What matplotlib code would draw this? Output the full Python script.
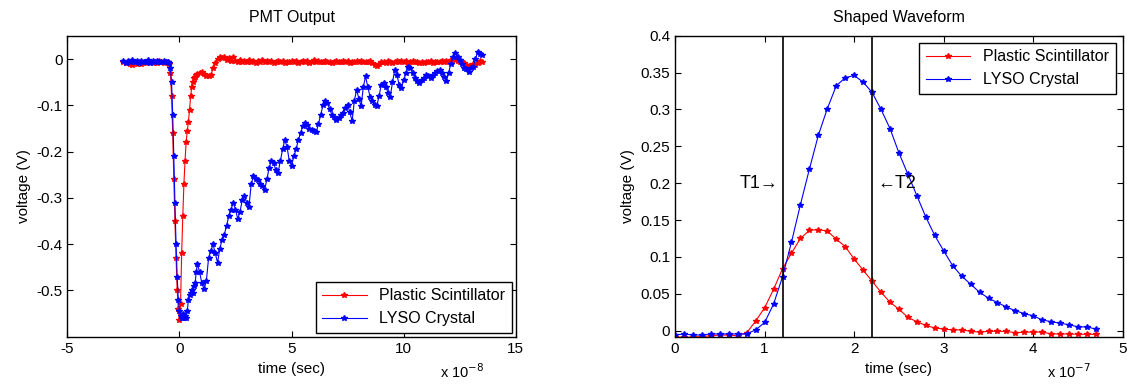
import matplotlib.pyplot as plt
import numpy as np
from matplotlib.ticker import FuncFormatter

plt.rcParams["font.family"] = ["Liberation Sans", "DejaVu Sans"]

# ---- PMT output (time in units of 1e-8 s, voltage in V) ----
# baseline before the pulse, 0.1 step starting at -2.5
plastic_pre = [-0.005, -0.008, -0.006, -0.010, -0.012, -0.009, -0.011, -0.007, -0.010, -0.006,
               -0.008, -0.004, -0.007, -0.009, -0.005, -0.008, -0.004, -0.006, -0.009, -0.005]
lyso_pre = [-0.004, -0.008, -0.003, -0.006, -0.002, -0.007, -0.004, -0.009, -0.003, -0.005,
            -0.006, -0.002, -0.008, -0.004, -0.006, -0.003, -0.007, -0.005, -0.004, -0.006]
# pulse edge, 0.05 step starting at -0.5
plastic_edge = [-0.005, -0.010, -0.030, -0.080, -0.160, -0.260, -0.350, -0.430, -0.500, -0.540,
                -0.565, -0.530, -0.420, -0.340, -0.270, -0.220, -0.180, -0.155, -0.135, -0.110,
                -0.080, -0.060, -0.050, -0.040, -0.038, -0.035]
lyso_edge = [-0.006, -0.008, -0.020, -0.050, -0.120, -0.210, -0.310, -0.400, -0.470, -0.520,
             -0.545, -0.555, -0.560, -0.550, -0.560, -0.555, -0.560, -0.545, -0.520, -0.510,
             -0.505, -0.500, -0.505, -0.490, -0.485, -0.460]
# tail, 0.1 step starting at 0.8
plastic_tail = [-0.032, -0.030, -0.028, -0.033, -0.036, -0.037, -0.035, -0.020, -0.008, 0.000,
                0.004, 0.002, 0.005, -0.002, 0.003, -0.004, 0.004, -0.003, -0.006, -0.002,
                -0.007, -0.003, -0.005, -0.001, -0.006, -0.004, -0.008, -0.003, -0.005, -0.002,
                -0.007, -0.004, -0.006, -0.003, -0.008, -0.005, -0.003, -0.007, -0.004, -0.009,
                -0.005, -0.006, -0.003, -0.007, -0.004, -0.008, -0.005, -0.003, -0.006, -0.004,
                -0.008, -0.005, -0.002, -0.006, -0.004, -0.007, -0.005, -0.003, -0.007, -0.005,
                -0.009, -0.006, -0.004, -0.007, -0.005, -0.003, -0.006, -0.004, -0.008, -0.005,
                -0.007, -0.004, -0.006, -0.003, -0.007, -0.005, -0.006, -0.004, -0.008, -0.012,
                -0.014, -0.010, -0.007, -0.005, -0.008, -0.004, -0.006, -0.009, -0.005, -0.003,
                -0.007, -0.004, -0.006, -0.003, -0.008, -0.005, -0.004, -0.007, -0.005, -0.009,
                -0.006, -0.008, -0.005, -0.007, -0.004, -0.008, -0.006, -0.005, -0.007, -0.004,
                -0.006, -0.003, -0.005, -0.002, 0.000, -0.002, -0.004, -0.006, -0.005, -0.008,
                -0.012, -0.015, -0.014, -0.010, -0.012, -0.008, -0.004, -0.006]
lyso_tail = [-0.443, -0.460, -0.485, -0.497, -0.480, -0.430, -0.415, -0.400, -0.420, -0.440,
             -0.410, -0.390, -0.380, -0.360, -0.340, -0.325, -0.310, -0.325, -0.345, -0.330,
             -0.305, -0.296, -0.310, -0.320, -0.270, -0.253, -0.258, -0.262, -0.270, -0.275,
             -0.282, -0.260, -0.235, -0.220, -0.225, -0.240, -0.245, -0.220, -0.195, -0.174,
             -0.190, -0.220, -0.230, -0.210, -0.195, -0.175, -0.160, -0.145, -0.138, -0.142,
             -0.150, -0.152, -0.155, -0.158, -0.140, -0.120, -0.100, -0.091, -0.095, -0.108,
             -0.120, -0.125, -0.131, -0.128, -0.120, -0.116, -0.105, -0.098, -0.115, -0.134,
             -0.090, -0.066, -0.085, -0.102, -0.060, -0.037, -0.060, -0.081, -0.090, -0.098,
             -0.102, -0.080, -0.055, -0.052, -0.060, -0.072, -0.081, -0.050, -0.023, -0.035,
             -0.055, -0.062, -0.045, -0.030, -0.016, -0.020, -0.030, -0.040, -0.048, -0.052,
             -0.045, -0.040, -0.034, -0.036, -0.040, -0.035, -0.030, -0.025, -0.023, -0.030,
             -0.038, -0.048, -0.030, -0.010, 0.005, 0.013, 0.005, -0.002, -0.010, -0.018,
             -0.022, -0.027, -0.020, -0.016, 0.000, 0.016, 0.012, 0.010]

# ---- Shaped waveform (time in units of 1e-7 s, 0.1 step from 0) ----
plastic_shaped = [-0.009, -0.009, -0.009, -0.008, -0.007, -0.006, -0.006, -0.007, -0.003, 0.013,
                  0.031, 0.056, 0.084, 0.105, 0.125, 0.136, 0.137, 0.135, 0.124, 0.114,
                  0.097, 0.082, 0.067, 0.052, 0.0385, 0.029, 0.018, 0.012, 0.007, 0.0036,
                  0.002, 0.001, 0.001, -0.001, -0.002, -0.001, -0.001, -0.001, -0.003, -0.002,
                  -0.002, -0.002, -0.0045, -0.0045, -0.0045, -0.005, -0.005, -0.005]
lyso_shaped = [-0.006, -0.0045, -0.006, -0.006, -0.0045, -0.0045, -0.0045, -0.0045, -0.0045, 0.001,
               0.011, 0.036, 0.073, 0.120, 0.171, 0.219, 0.265, 0.301, 0.332, 0.343,
               0.346, 0.337, 0.323, 0.300, 0.274, 0.241, 0.212, 0.183, 0.154, 0.129,
               0.108, 0.088, 0.074, 0.063, 0.052, 0.044, 0.038, 0.032, 0.027, 0.023,
               0.020, 0.0145, 0.012, 0.010, 0.008, 0.005, 0.005, 0.002]
t1_pos, t2_pos = 1.2e-7, 2.2e-7


def pmt_time(pre, edge, tail):
    t = np.concatenate([-2.5 + 0.1 * np.arange(len(pre)),
                        -0.5 + 0.05 * np.arange(len(edge)),
                        0.8 + 0.1 * np.arange(len(tail))])
    return t * 1e-8, np.concatenate([pre, edge, tail])


def matlab_axes(ax, scale, exp_label):
    ax.tick_params(direction="in", top=True, right=True, labelsize=11, length=4, width=0.8)
    ax.xaxis.set_major_formatter(FuncFormatter(lambda v, p: f"{v / scale:g}"))
    ax.yaxis.set_major_formatter(FuncFormatter(lambda v, p: f"{v:g}"))
    for s in ax.spines.values():
        s.set_linewidth(1.0)
    ax.text(0.93, -0.085, exp_label, transform=ax.transAxes, ha="right", va="top", fontsize=10.5)
    ax.set_xlabel("time (sec)", fontsize=11, labelpad=5)
    ax.set_ylabel("voltage (V)", fontsize=11, labelpad=4)


fig = plt.figure(figsize=(11.27, 3.91), dpi=100)
ax1 = fig.add_axes([0.0597, 0.139, 0.398, 0.7698])
ax2 = fig.add_axes([0.599, 0.139, 0.3973, 0.7698])

style = dict(marker="*", markersize=4, linewidth=0.8)
leg = dict(fontsize=11.5, frameon=True, fancybox=False, edgecolor="black", framealpha=1,
           handlelength=2.8, borderpad=0.4, labelspacing=0.5)

tp, vp = pmt_time(plastic_pre, plastic_edge, plastic_tail)
tl, vl = pmt_time(lyso_pre, lyso_edge, lyso_tail)
ax1.plot(tp, vp, color="red", label="Plastic Scintillator", **style)
ax1.plot(tl, vl, color="blue", label="LYSO Crystal", **style)
ax1.set_xlim(-5e-8, 15e-8)
ax1.set_ylim(-0.6, 0.051)
ax1.set_xticks(np.arange(-5, 16, 5) * 1e-8)
ax1.set_yticks([-0.5, -0.4, -0.3, -0.2, -0.1, 0])
ax1.set_title("PMT Output", fontsize=11.5, pad=10)
matlab_axes(ax1, 1e-8, r"x 10$^{-8}$")
ax1.legend(loc="lower right", borderaxespad=0.25, **leg)

ts = np.arange(len(lyso_shaped)) * 1e-8
ax2.plot(ts, plastic_shaped, color="red", label="Plastic Scintillator", **style)
ax2.plot(ts, lyso_shaped, color="blue", label="LYSO Crystal", **style)
ax2.axvline(t1_pos, color="black", linewidth=1.2)
ax2.axvline(t2_pos, color="black", linewidth=1.2)
ax2.text(t1_pos - 0.05e-7, 0.2, "T1\u2192", ha="right", va="center", fontsize=13)
ax2.text(t2_pos + 0.06e-7, 0.2, "\u2190T2", ha="left", va="center", fontsize=13)
ax2.set_xlim(0, 5e-7)
ax2.set_ylim(-0.0082, 0.4)
ax2.set_xticks(np.arange(0, 6) * 1e-7)
ax2.set_yticks(np.arange(0, 0.41, 0.05))
ax2.set_title("Shaped Waveform", fontsize=11.5, pad=10)
matlab_axes(ax2, 1e-7, r"x 10$^{-7}$")
ax2.legend(loc="upper right", borderaxespad=0.45, **leg)

fig.savefig("out.png", dpi=100)
